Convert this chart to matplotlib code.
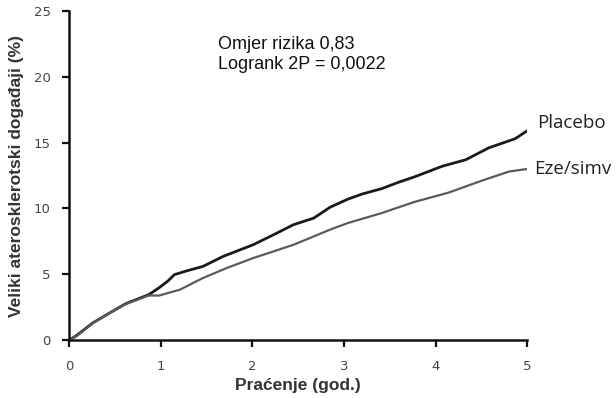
import matplotlib
matplotlib.use("Agg")
import matplotlib.pyplot as plt

# Kaplan-Meier style cumulative event curves (% of patients)
years_placebo = [0.0, 0.08, 0.26, 0.45, 0.62, 0.87, 0.98, 1.08, 1.15, 1.30, 1.46, 1.68,
                 2.01, 2.23, 2.45, 2.67, 2.85, 3.04, 3.20, 3.41, 3.60, 3.77, 4.07,
                 4.33, 4.58, 4.87, 5.0]
risk_placebo = [0.0, 0.35, 1.32, 2.1, 2.78, 3.46, 3.97, 4.5, 4.98, 5.3, 5.6, 6.36,
                7.25, 8.0, 8.77, 9.27, 10.1, 10.7, 11.1, 11.5, 12.0, 12.4, 13.2,
                13.7, 14.6, 15.3, 15.9]

years_eze = [0.0, 0.08, 0.26, 0.45, 0.62, 0.87, 0.98, 1.21, 1.46, 1.72, 2.01, 2.23,
             2.45, 2.67, 2.85, 3.04, 3.41, 3.77, 4.14, 4.50, 4.80, 5.0]
risk_eze = [0.0, 0.3, 1.3, 2.1, 2.75, 3.4, 3.39, 3.84, 4.72, 5.48, 6.24, 6.74,
            7.25, 7.88, 8.4, 8.89, 9.65, 10.5, 11.2, 12.1, 12.8, 13.0]

series_names = ["Placebo", "Eze/simv"]
stats_text = ["Omjer rizika 0,83", "Logrank 2P = 0,0022"]

fig = plt.figure(figsize=(6.16, 3.98), dpi=100)
ax = fig.add_axes([0.112, 0.145, 0.744, 0.828])

ax.plot(years_placebo, risk_placebo, color="#1a1a1a", lw=2.0, solid_joinstyle="round")
ax.plot(years_eze, risk_eze, color="#5a5a5a", lw=1.6, solid_joinstyle="round")

ax.set_xlim(0, 5)
ax.set_ylim(0, 25)
ax.set_xticks(range(0, 6))
ax.set_yticks(range(0, 26, 5))

for side in ("top", "right"):
    ax.spines[side].set_visible(False)
for side in ("left", "bottom"):
    ax.spines[side].set_linewidth(1.8)
    ax.spines[side].set_color("#111111")

ax.tick_params(direction="out", length=5, width=1.6, color="#111111",
               labelsize=9.5, labelcolor="#444444")
ax.tick_params(axis="x", pad=9)
ax.tick_params(axis="y", pad=8)
for lab in ax.get_xticklabels() + ax.get_yticklabels():
    lab.set_fontfamily("DejaVu Sans")

ax.set_xlabel("Praćenje (god.)", fontsize=12.5, fontweight="bold",
              family="Liberation Sans", color="#333333", labelpad=4)
ax.set_ylabel("Veliki aterosklerotski događaji (%)", fontsize=12.5, fontweight="bold",
              family="Liberation Sans", color="#333333", labelpad=7)

# end-of-line labels
ax.text(5.11, risk_placebo[-1] + 0.6, series_names[0], fontsize=13.5,
        family="Open Sans", color="#222222", va="center", clip_on=False)
ax.text(5.07, risk_eze[-1], series_names[1], fontsize=13.5,
        family="Open Sans", color="#222222", va="center", clip_on=False)

ax.text(1.63, 21.7, stats_text[0] + "\n" + stats_text[1], fontsize=13,
        family="Liberation Sans", color="#111111", va="center", ha="left",
        linespacing=1.25)

fig.savefig("out.png", dpi=100)
